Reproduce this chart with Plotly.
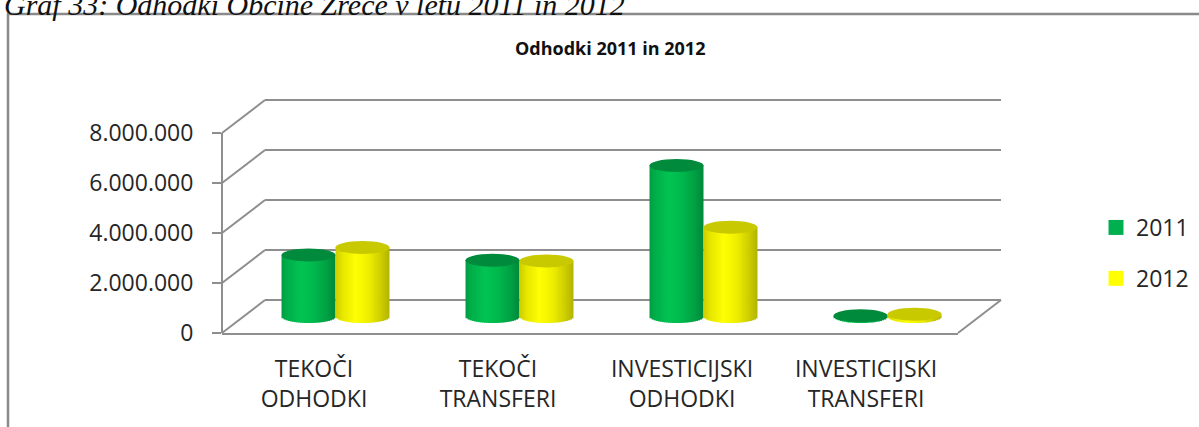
import numpy as np
import plotly.graph_objects as go

# ---- data -------------------------------------------------------------
categories = ["TEKOČI<br>ODHODKI", "TEKOČI<br>TRANSFERI",
              "INVESTICIJSKI<br>ODHODKI", "INVESTICIJSKI<br>TRANSFERI"]
series_names = ["2011", "2012"]
values_2011 = [2460000, 2250000, 6040000, 30000]
values_2012 = [2760000, 2220000, 3570000, 90000]
y_ticks = [0, 2000000, 4000000, 6000000, 8000000]
y_max = 8000000

# ---- page geometry (pixels) ------------------------------------------
W, H = 1199, 427
FRONT_L, FRONT_R = 222, 958          # front edge of the floor
FRONT_B, FRONT_T = 333, 133          # front value axis (0 .. y_max)
DEPTH_DX, DEPTH_DY = 43, 33          # oblique depth of the 3-D box
PXU = (FRONT_B - FRONT_T) / y_max    # pixels per unit of value
CYL_PX = 54                          # cylinder diameter
ELL_RY = 6.5                         # vertical radius of the cylinder caps
N_STRIPS = 26                        # vertical strips used for the shading
PAD = 3                              # extra room so edge gridlines are drawn

GRID = "#8e8e8e"


def fx(px):
    return px / W


def fy(px):
    return 1 - px / H


n_cat = len(categories)
unit_px = (FRONT_R - FRONT_L) / n_cat
cyl_w = CYL_PX / unit_px
ry_val = ELL_RY / PXU

# bars stand in the middle of the depth
MID_DX, MID_DY = DEPTH_DX / 2, DEPTH_DY / 2
bar_zero_px = FRONT_B - MID_DY
bar_dom_top, bar_dom_bot = 80, 350
bar_range = [-(bar_dom_bot - bar_zero_px) / PXU, (bar_zero_px - bar_dom_top) / PXU]

series = [
    dict(name=series_names[0], values=values_2011, offset=-cyl_w,
         base=(0, 196, 82), cap="#008a3c", legend="#00b050"),
    dict(name=series_names[1], values=values_2012, offset=0.0,
         base=(255, 255, 0), cap="#c9c900", legend="#ffff00"),
]

# brightness profile across a cylinder (left -> right)
prof_u = [0.0, 0.12, 0.38, 0.62, 0.85, 1.0]
prof_m = [0.80, 0.90, 1.0, 0.93, 0.80, 0.70]


def strip_color(rgb, u):
    m = float(np.interp(u, prof_u, prof_m))
    r, g, b = (min(255, int(round(c * m))) for c in rgb)
    return f"rgb({r},{g},{b})"


fig = go.Figure()

# back wall subplot (drawn first so it stays behind the cylinders)
fig.add_trace(go.Scatter(x=[None], y=[None], xaxis="x", yaxis="y",
                         showlegend=False, hoverinfo="skip"))
# front axis subplot
fig.add_trace(go.Scatter(x=[None], y=[None], xaxis="x2", yaxis="y2",
                         showlegend=False, hoverinfo="skip"))

x_pos = np.arange(n_cat)
strip_w = cyl_w / N_STRIPS
shapes = []
for s in series:
    vals = np.array(s["values"], dtype=float)
    for k in range(N_STRIPS):
        u = (k + 0.5) / N_STRIPS
        base = -ry_val * np.sqrt(max(0.0, 1 - (2 * u - 1) ** 2))
        w = strip_w * (1.35 if k < N_STRIPS - 1 else 1.0)
        fig.add_trace(go.Bar(
            x=x_pos, y=vals - base, base=[base] * n_cat,
            offset=s["offset"] + k * strip_w, width=w,
            marker=dict(color=strip_color(s["base"], u), line=dict(width=0)),
            xaxis="x3", yaxis="y3", showlegend=False, hoverinfo="skip",
        ))
    for i, v in enumerate(s["values"]):
        shapes.append(dict(
            type="circle", xref="x3", yref="y3",
            xsizemode="pixel", ysizemode="pixel",
            xanchor=i + s["offset"] + cyl_w / 2, yanchor=v,
            x0=-CYL_PX / 2, x1=CYL_PX / 2, y0=-ELL_RY, y1=ELL_RY,
            fillcolor=s["cap"], line=dict(width=0), layer="above",
        ))

# legend entries
for j, s in enumerate(series):
    fig.add_trace(go.Scatter(
        x=[None], y=[None], mode="markers", name=s["name"],
        marker=dict(symbol="square", size=15, color=s["legend"]),
        legendgroup=f"g{j}", xaxis="x3", yaxis="y3",
    ))

# oblique connectors from the front axis to the back wall
for v in y_ticks:
    yp = FRONT_B - v * PXU
    shapes.append(dict(type="line", xref="paper", yref="paper",
                       x0=fx(FRONT_L), y0=fy(yp),
                       x1=fx(FRONT_L + DEPTH_DX), y1=fy(yp - DEPTH_DY),
                       line=dict(color=GRID, width=2), layer="below"))
shapes.append(dict(type="line", xref="paper", yref="paper",
                   x0=fx(FRONT_R), y0=fy(FRONT_B),
                   x1=fx(FRONT_R + DEPTH_DX), y1=fy(FRONT_B - DEPTH_DY),
                   line=dict(color=GRID, width=2), layer="below"))

# outer frame of the chart
shapes.append(dict(type="rect", xref="paper", yref="paper",
                   x0=fx(8), y0=fy(14), x1=1.02, y1=-0.05,
                   line=dict(color="#8a8a8a", width=2.5), layer="below"))

annotations = [
    dict(text="<b>Odhodki 2011 in 2012</b>", xref="paper", yref="paper",
         x=fx(610), y=fy(48), xanchor="center", yanchor="middle",
         showarrow=False, font=dict(size=18, color="#111", family="Open Sans")),
    dict(text="<i>Graf 33: Odhodki Občine Zreče v letu 2011 in 2012</i>",
         xref="paper", yref="paper", x=fx(2), y=fy(23),
         xanchor="left", yanchor="bottom", showarrow=False,
         font=dict(size=30, color="#111", family="Liberation Serif")),
]

fig.update_layout(
    width=W, height=H,
    margin=dict(l=0, r=0, t=0, b=0, pad=0, autoexpand=False),
    paper_bgcolor="white", plot_bgcolor="rgba(0,0,0,0)",
    font=dict(family="Open Sans", size=23, color="#262626"),
    separators=",.",
    barmode="overlay",
    showlegend=True,
    legend=dict(x=fx(1096), y=fy(206), xanchor="left", yanchor="top",
                font=dict(size=23, color="#262626"),
                tracegroupgap=18, traceorder="grouped",
                bgcolor="rgba(0,0,0,0)"),
    shapes=shapes,
    annotations=annotations,
    # back wall: gridlines only
    xaxis=dict(domain=[fx(FRONT_L + DEPTH_DX), fx(FRONT_R + DEPTH_DX)],
               range=[0, 1], visible=False, anchor="y", automargin=False),
    yaxis=dict(domain=[fy(FRONT_B - DEPTH_DY + PAD), fy(FRONT_T - DEPTH_DY - PAD)],
               range=[-PAD / PXU, y_max + PAD / PXU], tickvals=y_ticks,
               showticklabels=False, showgrid=True, gridcolor=GRID,
               gridwidth=2, zeroline=False, showline=False, ticks="",
               anchor="x", automargin=False),
    # front: value axis and category axis
    xaxis2=dict(domain=[fx(FRONT_L), fx(FRONT_R)], range=[-0.5, n_cat - 0.5],
                anchor="y2", showline=True, linecolor=GRID, linewidth=2,
                showgrid=False, zeroline=False, ticks="",
                tickvals=list(x_pos), ticktext=categories,
                ticklabelstandoff=14, tickfont=dict(size=23),
                automargin=False),
    yaxis2=dict(domain=[fy(FRONT_B), fy(FRONT_T)], range=[0, y_max],
                anchor="free", position=fx(FRONT_L), side="left",
                showline=True, linecolor=GRID, linewidth=2,
                ticks="outside", ticklen=9, tickwidth=2, tickcolor=GRID,
                tickvals=y_ticks, tickformat=",d", showgrid=False,
                zeroline=False, ticklabelstandoff=14, automargin=False),
    # cylinders at mid depth
    xaxis3=dict(domain=[fx(FRONT_L + MID_DX), fx(FRONT_R + MID_DX)],
                range=[-0.5, n_cat - 0.5], visible=False, anchor="y3",
                automargin=False),
    yaxis3=dict(domain=[fy(bar_dom_bot), fy(bar_dom_top)], range=bar_range,
                visible=False, anchor="x3", automargin=False),
)

fig.write_html("out.html")
